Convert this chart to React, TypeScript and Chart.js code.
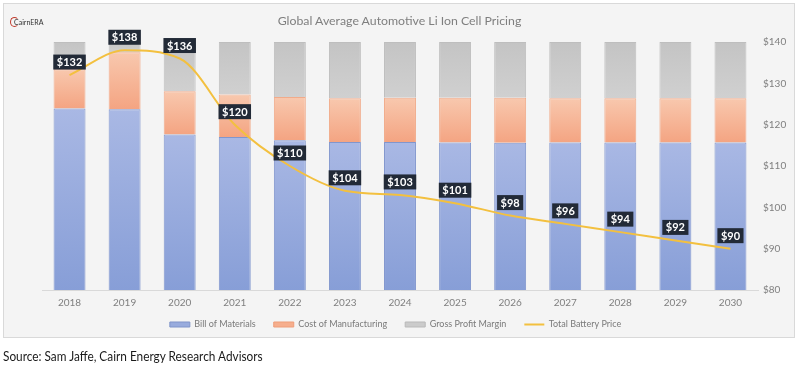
import React, { useEffect, useRef } from "react";
import { Chart, registerables } from "chart.js";

Chart.register(...registerables);

const years = ["2018","2019","2020","2021","2022","2023","2024","2025","2026","2027","2028","2029","2030"];
const billOfMaterials = [123.9, 123.7, 117.6, 117.0, 116.2, 115.8, 115.8, 115.7, 115.6, 115.7, 115.7, 115.7, 115.7];
const costOfManufacturing = [9.5, 13.8, 10.5, 10.3, 10.5, 10.6, 10.7, 10.8, 10.9, 10.7, 10.7, 10.7, 10.7];
const grossProfitMargin = [6.6, 2.5, 11.9, 12.7, 13.3, 13.6, 13.5, 13.5, 13.5, 13.6, 13.6, 13.6, 13.6];
const totalBatteryPrice = [132, 138, 136, 120, 110, 104, 103, 101, 98, 96, 94, 92, 90];
const yTicks = [80, 90, 100, 110, 120, 130, 140];

const FONT = "Lato, 'Open Sans', sans-serif";

function segmentGradient(ctx: any, seriesIndex: number, top: string, bottom: string, solid: string) {
  const chart = ctx.chart;
  if (ctx.type !== "data" || !chart.chartArea || !chart.scales || !chart.scales.y) return solid;
  const i = ctx.dataIndex;
  const series = [billOfMaterials, costOfManufacturing, grossProfitMargin];
  let base = 0;
  for (let s = 0; s < seriesIndex; s++) base += series[s][i];
  const end = base + series[seriesIndex][i];
  const y = chart.scales.y;
  const yTop = y.getPixelForValue(end);
  const yBot = y.getPixelForValue(Math.max(base, 80));
  if (!isFinite(yTop) || !isFinite(yBot) || yTop === yBot) return solid;
  const g = chart.ctx.createLinearGradient(0, yTop, 0, yBot);
  g.addColorStop(0, top);
  g.addColorStop(1, bottom);
  return g;
}

const labelPlugin = {
  id: "priceLabels",
  afterDatasetsDraw(chart: any) {
    const meta = chart.getDatasetMeta(3);
    const ctx = chart.ctx;
    ctx.save();
    ctx.font = `bold 11px ${FONT}`;
    ctx.textAlign = "center";
    ctx.textBaseline = "middle";
    meta.data.forEach((pt: any, i: number) => {
      const text = "$" + totalBatteryPrice[i];
      const w = ctx.measureText(text).width + 7;
      const h = 15;
      const cx = pt.x;
      const cy = pt.y - 13;
      ctx.fillStyle = "#222a37";
      ctx.fillRect(cx - w / 2, cy - h / 2, w, h);
      ctx.fillStyle = "#ffffff";
      ctx.fillText(text, cx, cy + 0.5);
    });
    ctx.restore();
  },
};

const legendShift = {
  id: "legendShift",
  afterLayout(chart: any) {
    const l = chart.legend;
    if (l) {
      l.top -= 10;
      l.bottom -= 10;
    }
  },
};

export default function App() {
  const canvasRef = useRef<HTMLCanvasElement | null>(null);

  useEffect(() => {
    if (!canvasRef.current) return;
    const chart = new Chart(canvasRef.current, {
      type: "bar",
      data: {
        labels: years,
        datasets: [
          {
            label: "Bill of Materials",
            data: billOfMaterials,
            stack: "bars",
            yAxisID: "y",
            backgroundColor: (c: any) => segmentGradient(c, 0, "#a9b8e4", "#879ed7", "#98abdd"),
            borderColor: "#8196cd",
            borderWidth: 1,
            barPercentage: 0.58,
            categoryPercentage: 1,
          },
          {
            label: "Cost of Manufacturing",
            data: costOfManufacturing,
            stack: "bars",
            yAxisID: "y",
            backgroundColor: (c: any) => segmentGradient(c, 1, "#f8c8ae", "#f4a482", "#f6b393"),
            borderColor: "#f1ab8a",
            borderWidth: 1,
            barPercentage: 0.58,
            categoryPercentage: 1,
          },
          {
            label: "Gross Profit Margin",
            data: grossProfitMargin,
            stack: "bars",
            yAxisID: "y",
            backgroundColor: (c: any) => segmentGradient(c, 2, "#c4c4c4", "#d0d0d0", "#cacaca"),
            borderColor: "#bebebe",
            borderWidth: 1,
            barPercentage: 0.58,
            categoryPercentage: 1,
          },
          {
            type: "line",
            label: "Total Battery Price",
            data: totalBatteryPrice,
            stack: "line",
            yAxisID: "y",
            borderColor: "#f3c03f",
            borderWidth: 2,
            pointRadius: 0,
            cubicInterpolationMode: "monotone",
            order: -1,
          } as any,
        ],
      },
      options: {
        animation: false,
        responsive: false,
        layout: { padding: { left: 0, right: 8, top: 42, bottom: 1 } },
        plugins: {
          title: { display: false },
          tooltip: { enabled: false },
          legend: {
            position: "bottom",
            labels: {
              font: { family: FONT, size: 9 },
              color: "#7a7a7a",
              usePointStyle: true,
              pointStyleWidth: 20,
              boxWidth: 20,
              boxHeight: 5,
              padding: 18,
              sort: (a: any, b: any) => a.datasetIndex - b.datasetIndex,
              generateLabels: () => [
                { text: "Bill of Materials", fillStyle: "#98abdd", strokeStyle: "#7f93c9", lineWidth: 1, pointStyle: "rect", datasetIndex: 0, hidden: false, fontColor: "#7a7a7a" },
                { text: "Cost of Manufacturing", fillStyle: "#f6ae8d", strokeStyle: "#ee9d78", lineWidth: 1, pointStyle: "rect", datasetIndex: 1, hidden: false, fontColor: "#7a7a7a" },
                { text: "Gross Profit Margin", fillStyle: "#cbcbcb", strokeStyle: "#b9b9b9", lineWidth: 1, pointStyle: "rect", datasetIndex: 2, hidden: false, fontColor: "#7a7a7a" },
                { text: "Total Battery Price", fillStyle: "#f3c03f", strokeStyle: "#f3c03f", lineWidth: 2, pointStyle: "line", datasetIndex: 3, hidden: false, fontColor: "#7a7a7a" },
              ],
            },
          },
        },
        scales: {
          x: {
            stacked: true,
            grid: { display: false, drawTicks: false },
            border: { display: true, color: "#d9d9d9", width: 1 },
            ticks: { color: "#7f7f7f", font: { family: FONT, size: 10 }, padding: 7 },
            afterFit: (s: any) => { s.height = 22; },
          },
          yl: {
            type: "linear",
            position: "left",
            display: true,
            min: 0,
            max: 1,
            grid: { display: false, drawTicks: false },
            border: { display: false },
            ticks: { display: false },
            afterFit: (s: any) => { s.width = 42; },
          },
          y: {
            stacked: true,
            position: "right",
            min: 80,
            max: 140,
            afterBuildTicks: (s: any) => { s.ticks = yTicks.map((v) => ({ value: v })); },
            grid: { display: false, drawTicks: false },
            border: { display: false },
            ticks: {
              color: "#7f7f7f",
              font: { family: FONT, size: 10 },
              padding: 5,
              callback: (v: any) => "$" + v,
            },
            afterFit: (s: any) => { s.width = 33; },
          },
        },
      } as any,
      plugins: [labelPlugin, legendShift],
    });
    return () => chart.destroy();
  }, []);

  return (
    <div style={{ position: "fixed", left: 0, top: 0, width: 799, height: 373, background: "#ffffff", overflow: "hidden" }}>
      <div style={{ position: "absolute", left: 3, top: 3, width: 792, height: 335, boxSizing: "border-box", border: "1px solid #d9d9d9", background: "#f4f4f4" }} />
      <canvas ref={canvasRef} width={799} height={350} style={{ position: "absolute", left: 0, top: 0, width: 799, height: 350 }} />
      <div style={{ position: "absolute", left: 0, top: 12, width: 799, textAlign: "center", fontFamily: FONT, fontSize: 12.3, lineHeight: "18px", color: "#7f7f7f" }}>
        Global Average Automotive Li Ion Cell Pricing
      </div>
      <div style={{ position: "absolute", left: 10, top: 17, width: 9, height: 10, boxSizing: "border-box", borderRadius: "50%", border: "1.5px solid #c0392b", borderRightColor: "transparent" }} />
      <div style={{ position: "absolute", left: 14, top: 17, fontFamily: FONT, fontSize: 7, lineHeight: "10px", color: "#333" }}>CairnERA</div>
      <div style={{ position: "absolute", left: 3, top: 348, fontFamily: FONT, fontSize: 13, lineHeight: "16px", color: "#1a1a1a", whiteSpace: "nowrap", transformOrigin: "left center", transform: "scaleX(0.91)" }}>
        Source: Sam Jaffe, Cairn Energy Research Advisors
      </div>
    </div>
  );
}
